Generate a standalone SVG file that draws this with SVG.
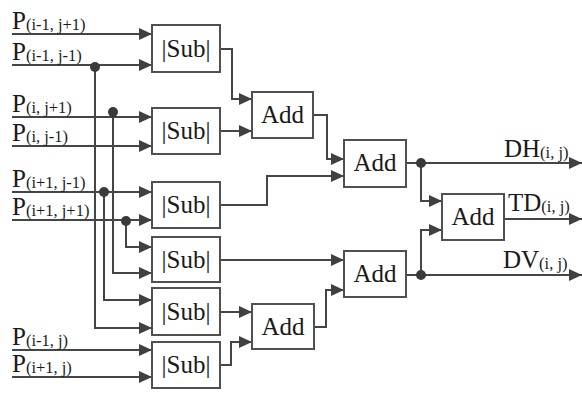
<svg xmlns="http://www.w3.org/2000/svg" width="582" height="393" viewBox="0 0 582 393">
<style>
.box{fill:#fff;stroke:#505050;stroke-width:2}
.w{fill:none;stroke:#454545;stroke-width:2}
.t{font-family:"Liberation Serif","Times New Roman",serif;font-size:25px;fill:#1a1a1a}
.s{font-size:16.5px}
.c{text-anchor:middle}
.dot{fill:#3a3a3a}
</style>
<defs>
<marker id="ah" viewBox="0 0 13 12" refX="13" refY="6" markerWidth="13" markerHeight="12" markerUnits="userSpaceOnUse" orient="auto">
<path d="M0,0 L13,6 L0,12 z" fill="#404040"/>
</marker>
</defs>
<rect width="582" height="393" fill="#fff"/>
<g id="connectors">
<path class="w" d="M12,34 H152" marker-end="url(#ah)"/>
<path class="w" d="M12,65 H152" marker-end="url(#ah)"/>
<path class="w" d="M12,117 H152" marker-end="url(#ah)"/>
<path class="w" d="M12,146 H152" marker-end="url(#ah)"/>
<path class="w" d="M12,192 H152" marker-end="url(#ah)"/>
<path class="w" d="M12,220 H152" marker-end="url(#ah)"/>
<path class="w" d="M12,350 H152" marker-end="url(#ah)"/>
<path class="w" d="M12,377 H152" marker-end="url(#ah)"/>
<path class="w" d="M95,67 V328 H152" marker-end="url(#ah)"/>
<path class="w" d="M113,112 V273 H152" marker-end="url(#ah)"/>
<path class="w" d="M104,192 V300 H152" marker-end="url(#ah)"/>
<path class="w" d="M126,220 V247 H152" marker-end="url(#ah)"/>
<circle class="dot" cx="95" cy="67" r="5"/>
<circle class="dot" cx="113" cy="112" r="5"/>
<circle class="dot" cx="104" cy="192" r="5"/>
<circle class="dot" cx="126" cy="221" r="5"/>
<path class="w" d="M220,49 H232 V99 H252" marker-end="url(#ah)"/>
<path class="w" d="M220,131 H252" marker-end="url(#ah)"/>
<path class="w" d="M313,115 H327 V159 H344" marker-end="url(#ah)"/>
<path class="w" d="M220,205 H267 V176 H344" marker-end="url(#ah)"/>
<path class="w" d="M220,260 H344" marker-end="url(#ah)"/>
<path class="w" d="M220,312 H252" marker-end="url(#ah)"/>
<path class="w" d="M220,365 H231 V342 H252" marker-end="url(#ah)"/>
<path class="w" d="M314,327 H326 V290 H344" marker-end="url(#ah)"/>
<path class="w" d="M406,163 H582" marker-end="url(#ah)"/>
<path class="w" d="M421,163 V201 H442" marker-end="url(#ah)"/>
<path class="w" d="M406,275 H582" marker-end="url(#ah)"/>
<path class="w" d="M421,275 V230 H442" marker-end="url(#ah)"/>
<path class="w" d="M504,219 H582" marker-end="url(#ah)"/>
<circle class="dot" cx="421" cy="163" r="5"/>
<circle class="dot" cx="421" cy="275" r="5"/>
</g>
<g id="labels">
<text class="t" x="12" y="29">P<tspan class="s" dy="1">(i-1, j+1)</tspan></text>
<text class="t" x="12" y="60">P<tspan class="s" dy="1">(i-1, j-1)</tspan></text>
<text class="t" x="12" y="112">P<tspan class="s" dy="1">(i, j+1)</tspan></text>
<text class="t" x="12" y="141">P<tspan class="s" dy="1">(i, j-1)</tspan></text>
<text class="t" x="12" y="187">P<tspan class="s" dy="1">(i+1, j-1)</tspan></text>
<text class="t" x="12" y="215">P<tspan class="s" dy="1">(i+1, j+1)</tspan></text>
<text class="t" x="12" y="345">P<tspan class="s" dy="1">(i-1, j)</tspan></text>
<text class="t" x="12" y="372">P<tspan class="s" dy="1">(i+1, j)</tspan></text>
<text class="t" x="504" y="157">DH<tspan class="s" dy="1">(i, j)</tspan></text>
<text class="t" x="508" y="211">TD<tspan class="s" dy="1">(i, j)</tspan></text>
<text class="t" x="503" y="268">DV<tspan class="s" dy="1">(i, j)</tspan></text>
</g>
<g id="sub1"><rect class="box" x="152" y="25" width="68" height="47"/><text class="t c" x="186" y="57">|Sub|</text></g>
<g id="sub2"><rect class="box" x="152" y="108" width="68" height="46"/><text class="t c" x="186" y="139">|Sub|</text></g>
<g id="sub3"><rect class="box" x="152" y="182" width="68" height="46"/><text class="t c" x="186" y="213">|Sub|</text></g>
<g id="sub4"><rect class="box" x="152" y="237" width="68" height="45"/><text class="t c" x="186" y="268">|Sub|</text></g>
<g id="sub5"><rect class="box" x="152" y="288" width="68" height="47"/><text class="t c" x="186" y="320">|Sub|</text></g>
<g id="sub6"><rect class="box" x="152" y="342" width="68" height="46"/><text class="t c" x="186" y="373">|Sub|</text></g>
<g id="add1"><rect class="box" x="252" y="92" width="61" height="46"/><text class="t c" x="282.5" y="123">Add</text></g>
<g id="add2"><rect class="box" x="344" y="140" width="62" height="47"/><text class="t c" x="375" y="171">Add</text></g>
<g id="add3"><rect class="box" x="344" y="251" width="62" height="46"/><text class="t c" x="375" y="282">Add</text></g>
<g id="add4"><rect class="box" x="252" y="304" width="62" height="45"/><text class="t c" x="283" y="335">Add</text></g>
<g id="add5"><rect class="box" x="442" y="194" width="62" height="46"/><text class="t c" x="473" y="225">Add</text></g>
</svg>
